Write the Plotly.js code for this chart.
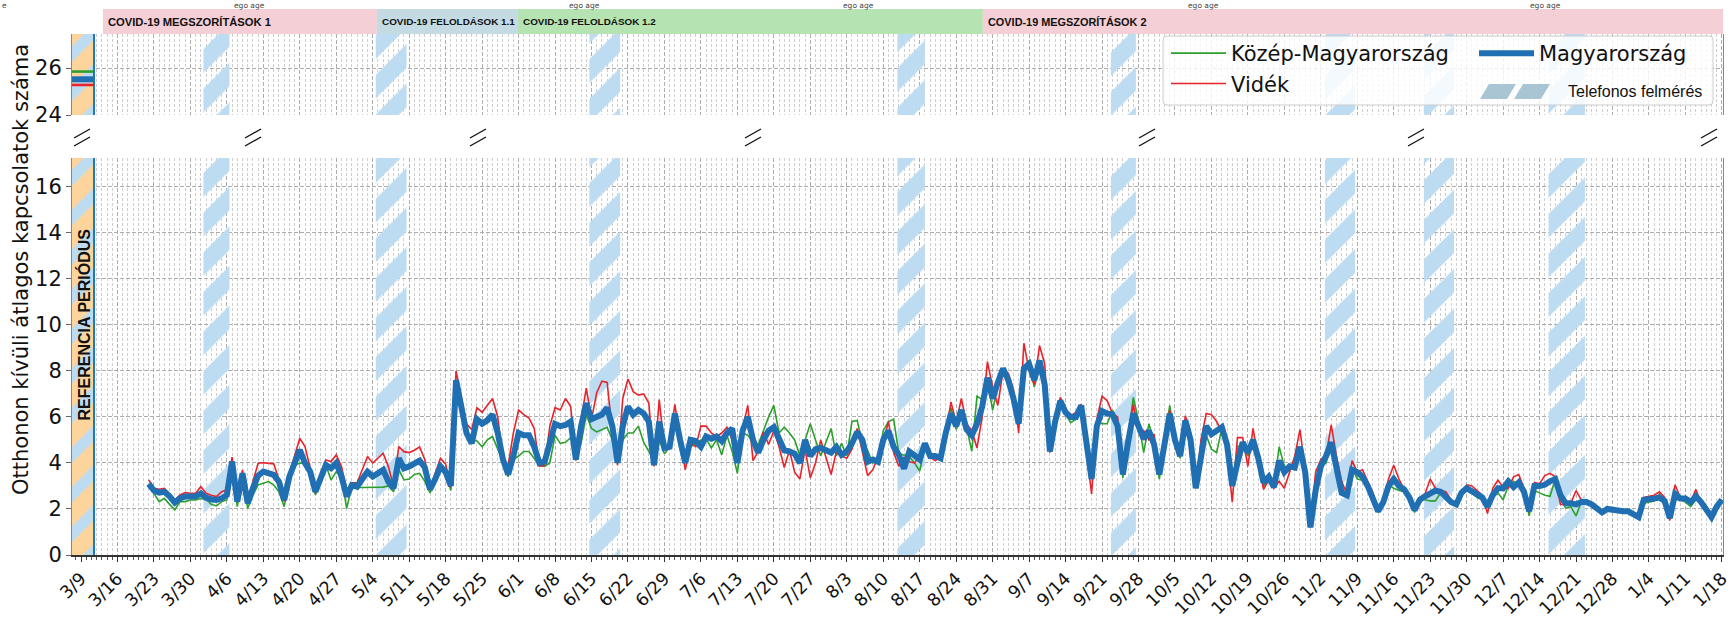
<!DOCTYPE html>
<html><head><meta charset="utf-8">
<script src="https://cdn.plot.ly/plotly-3.0.1.min.js"></script>
<style>html,body{margin:0;padding:0;background:#fff}</style>
</head><body><div id="chart" style="width:1734px;height:617px"></div>
<script>
// ---------------- DATA ----------------
const firstDay = '2020-03-22';
const seriesNames = ['Közép-Magyarország', 'Vidék', 'Magyarország'];
const kozep = [2.97,2.68,2.32,2.46,2.20,1.96,2.32,2.32,2.39,2.39,
 2.46,2.42,2.20,2.13,2.32,2.39,3.99,2.10,3.41,2.03,
 2.60,3.05,3.12,3.19,3.04,2.75,2.10,3.26,3.91,3.99,
 3.99,3.55,2.61,3.30,3.91,3.26,3.62,3.40,2.03,2.97,
 2.93,2.93,2.93,2.93,2.93,2.95,3.00,2.75,3.70,3.26,
 3.30,3.50,3.55,3.20,2.70,3.20,3.70,3.55,2.80,7.30,
 6.15,5.30,5.00,4.95,4.70,5.00,5.15,4.60,4.05,3.40,
 4.15,4.30,4.50,4.50,4.20,3.90,3.85,4.00,5.20,4.85,
 4.90,5.10,4.30,4.85,6.10,5.50,5.35,5.45,5.55,5.00,
 4.00,5.00,5.30,5.30,5.60,4.90,4.50,4.10,5.00,4.40,
 4.70,6.00,4.60,4.20,4.70,4.85,5.00,5.05,4.65,5.00,
 4.35,5.20,4.50,3.55,5.30,5.20,4.90,4.80,5.40,6.00,
 6.50,5.30,5.55,5.30,5.00,4.30,5.00,5.70,5.00,4.30,
 4.90,5.50,4.30,4.85,4.30,5.80,5.85,4.85,4.55,4.00,
 4.15,5.40,5.80,5.90,4.40,4.35,4.28,4.00,3.65,4.70,
 4.30,4.20,4.20,5.50,6.40,5.45,6.00,5.55,4.50,6.90,
 6.75,7.60,6.30,7.30,8.00,7.80,6.90,6.00,8.20,8.45,
 7.30,8.20,7.50,4.50,5.80,6.70,6.10,5.75,5.90,6.50,
 4.60,3.35,5.80,5.70,5.70,6.30,5.70,3.35,5.00,6.85,
 5.85,4.45,5.70,4.90,3.30,4.90,6.50,5.00,4.20,5.90,
 5.10,2.95,4.00,5.20,4.60,4.45,5.50,4.70,3.05,4.70,
 4.80,4.30,4.85,4.00,3.00,3.20,3.00,4.70,3.85,3.80,
 3.70,4.60,3.50,1.25,3.00,3.85,4.00,4.75,3.70,2.80,
 2.60,3.80,3.30,3.25,2.90,2.45,1.85,2.40,3.05,2.90,
 2.80,2.75,2.40,1.85,2.50,2.40,2.35,2.35,2.70,2.60,
 2.30,2.15,2.70,2.80,2.70,2.50,2.40,2.10,2.50,2.70,
 2.40,3.00,3.20,3.00,2.80,1.70,2.80,2.70,2.60,2.55,
 3.30,2.40,2.05,2.10,1.70,2.30,2.30,2.20,2.00,1.85,
 2.00,1.95,1.93,1.90,1.90,1.80,1.65,2.25,2.30,2.35,
 2.65,2.10,1.60,2.40,2.40,2.30,2.10,2.40,2.40,2.00,
 1.65,2.10,2.40];
const videk = [3.26,2.90,2.86,2.90,2.65,2.39,2.61,2.71,2.68,2.68,
 2.97,2.68,2.60,2.54,2.75,2.83,4.25,2.39,3.70,2.32,
 3.20,3.99,4.01,3.98,3.96,3.26,2.32,3.55,4.28,5.07,
 4.71,3.77,2.68,3.50,4.13,4.06,4.35,3.84,2.83,3.14,
 3.14,3.70,4.28,3.99,4.20,4.42,3.84,2.97,4.71,4.49,
 4.45,4.55,4.70,4.15,2.90,3.60,4.20,3.95,2.95,8.00,
 6.90,5.70,5.45,6.40,6.20,6.50,6.80,6.00,4.10,3.90,
 5.30,6.30,6.10,5.95,5.50,3.85,3.90,5.60,6.40,6.30,
 6.80,6.45,4.10,5.90,7.25,5.90,7.05,7.55,7.50,5.30,
 3.90,6.80,7.65,7.10,6.95,7.00,6.60,3.85,6.75,4.60,
 4.90,6.55,5.00,3.70,4.85,4.70,5.60,5.60,5.30,5.15,
 5.30,5.55,5.00,4.30,5.50,6.50,4.10,4.50,5.35,4.80,
 5.40,4.70,3.80,4.55,3.60,3.30,4.60,3.35,4.00,5.00,
 4.30,3.50,4.50,4.30,4.20,4.60,5.50,4.40,3.45,3.70,
 4.25,4.85,5.80,4.45,3.85,4.25,4.05,4.00,4.30,4.70,
 4.25,4.10,4.30,5.30,6.65,5.75,6.80,5.70,5.40,4.65,
 6.00,8.40,7.30,6.50,8.00,7.90,7.20,5.30,9.20,8.00,
 7.40,9.10,8.30,4.45,5.90,6.85,6.30,6.05,6.20,6.55,
 4.50,2.65,5.90,6.90,6.70,6.15,6.00,3.55,4.90,6.55,
 5.35,5.40,5.00,5.25,3.55,5.00,6.30,5.00,4.40,6.05,
 5.30,2.90,5.00,6.15,6.10,5.80,5.35,4.60,2.30,5.10,
 5.10,3.85,5.50,4.10,2.85,3.25,2.90,3.20,2.90,3.60,
 4.30,5.45,3.70,1.20,3.60,4.15,4.30,5.65,4.30,3.20,
 2.65,4.10,3.60,3.70,3.20,2.70,1.90,2.40,3.30,3.90,
 3.30,2.85,2.50,2.05,2.50,2.65,3.30,2.90,2.80,2.75,
 2.40,2.25,2.70,3.05,3.00,2.80,2.60,1.80,2.90,3.25,
 2.95,2.90,3.40,3.50,2.90,1.85,3.15,3.10,3.45,3.55,
 3.40,2.20,2.20,2.25,2.80,2.40,2.30,2.20,2.00,1.85,
 2.00,1.95,1.93,1.90,1.90,1.80,1.70,2.50,2.55,2.60,
 2.75,2.50,1.50,3.05,2.50,2.55,2.30,2.85,2.25,2.00,
 1.70,2.10,2.40];
const magyar = [3.09,2.80,2.71,2.75,2.55,2.28,2.46,2.54,2.54,2.54,
 2.68,2.49,2.42,2.39,2.46,2.61,4.06,2.32,3.55,2.25,
 2.90,3.45,3.62,3.55,3.48,3.19,2.39,3.41,4.06,4.57,
 3.99,3.62,2.75,3.30,3.91,3.77,3.99,3.41,2.54,3.04,
 2.97,3.30,3.62,3.41,3.55,3.70,3.19,2.90,4.20,3.77,
 3.85,4.00,4.10,3.80,2.85,3.30,3.85,3.60,3.00,7.60,
 6.45,5.30,4.85,5.90,5.70,5.85,6.10,5.30,4.15,3.50,
 4.30,5.30,5.20,5.20,4.70,4.00,4.05,4.85,5.70,5.60,
 5.65,5.80,4.15,5.60,6.60,5.90,6.00,6.10,6.40,5.60,
 4.00,5.60,6.45,6.10,6.30,6.15,5.80,3.90,5.80,4.65,
 4.70,6.15,5.00,4.00,5.00,4.95,4.70,5.15,5.05,5.15,
 4.95,5.30,5.50,4.00,5.40,6.00,5.00,4.45,5.00,5.40,
 5.55,5.00,4.55,4.50,4.40,4.00,5.00,4.30,4.60,4.65,
 4.55,4.45,4.70,4.35,4.50,4.85,5.35,5.00,4.05,4.15,
 4.05,5.00,5.40,4.70,4.35,3.75,4.50,4.30,4.15,4.85,
 4.30,4.30,4.20,5.30,6.15,5.60,6.30,5.45,5.20,5.70,
 6.45,7.70,6.80,7.50,8.10,7.60,6.80,5.70,8.10,8.30,
 7.60,8.45,7.40,4.50,5.80,6.70,6.20,6.00,6.00,6.50,
 4.70,3.30,5.60,6.25,6.15,6.10,5.60,3.50,4.90,6.15,
 5.60,5.05,5.40,4.80,3.50,4.90,6.15,5.00,4.30,5.85,
 5.00,2.90,4.40,5.60,5.25,5.40,5.55,4.80,3.00,4.00,
 4.90,4.45,5.00,4.20,3.15,3.40,2.95,4.10,3.60,3.85,
 3.80,4.70,3.60,1.20,2.80,3.85,4.30,4.90,3.70,2.70,
 2.60,3.70,3.60,3.40,3.00,2.40,1.90,2.30,3.00,3.30,
 3.00,2.85,2.50,1.95,2.40,2.55,2.65,2.80,2.75,2.55,
 2.30,2.20,2.70,2.90,2.75,2.60,2.50,2.10,2.60,2.90,
 2.90,3.20,2.95,3.15,2.75,1.90,3.00,3.00,3.05,3.20,
 3.30,2.60,2.25,2.25,2.20,2.30,2.30,2.20,2.00,1.85,
 2.00,1.95,1.93,1.90,1.90,1.80,1.65,2.40,2.40,2.45,
 2.50,2.35,1.60,2.65,2.45,2.45,2.30,2.55,2.30,2.00,
 1.65,2.10,2.40];
// reference-period levels (Közép, Vidék, Magyarország)
const refLevels = [25.85, 25.28, 25.52];
const refPeriod = ['2020-03-07 06:30', '2020-03-11 12:00'];
const refLabel = 'REFERENCIA PERIÓDUS';
// phone survey periods
const surveyStarts = ['2020-04-01 12:00','2020-05-04 14:00','2020-06-14 14:00','2020-08-12 17:00',
  '2020-09-22 17:00','2020-11-02 19:00','2020-11-21 19:00','2020-12-15 17:00'];
const surveyEnds = ['2020-04-06 12:00','2020-05-10 12:00','2020-06-20 12:00','2020-08-18 00:00',
  '2020-09-27 12:00','2020-11-08 14:00','2020-11-27 14:00','2020-12-22 17:00'];
const surveyName = 'Telefonos felmérés';
// policy phases
const phaseNames = ['COVID-19 MEGSZORÍTÁSOK 1','COVID-19 FELOLDÁSOK 1.1','COVID-19 FELOLDÁSOK 1.2','COVID-19 MEGSZORÍTÁSOK 2'];
const phaseStarts = ['2020-03-13 05:00','2020-05-04 19:00','2020-05-31 21:00','2020-08-29 03:00'];
const phaseEnds = ['2020-05-04 19:00','2020-05-31 21:00','2020-08-29 03:00','2021-01-18 05:00'];
const phaseColors = ['#f4cfd5','#c5dbe3','#b5e3b1','#f4cfd5'];
const yTitle = 'Otthonon kívüli átlagos kapcsolatok száma';
const cutLabels = ['e','ego age','ego age','ego age','ego age','ego age'];
const xStart = '2020-03-07 06:30', xEnd = '2021-01-18 05:00';
const yLow = [0, 17.25], yHigh = [24, 27.45];

// ---------------- LAYOUT HELPERS ----------------
const W = 1734, H = 617;
const M = {l: 72, r: 11, t: 0, b: 62};
const PW = W - M.l - M.r, PH = H - M.t - M.b;
const px = x => (x - M.l) / PW;
const py = y => (PH - (y - M.t)) / PH;

function dayStr(start, i) {
  const d = new Date(start + 'T00:00:00Z');
  d.setUTCDate(d.getUTCDate() + i);
  return d.toISOString().slice(0, 10);
}
const dates = magyar.map((_, i) => dayStr(firstDay, i));

function bands(starts, ends, lo, hi) {
  const x = [], y = [];
  starts.forEach((s, i) => {
    x.push(s, ends[i], ends[i], s, s, null);
    y.push(lo, lo, hi, hi, lo, null);
  });
  return {x, y};
}

const SOL = 0.6;
const stripe = {shape: '/', fgcolor: '#bedcf1', bgcolor: 'rgba(255,255,255,0)', size: 28, solidity: SOL, fgopacity: 1};
const refStripe = {shape: '/', fgcolor: '#fcd49c', bgcolor: '#bedcf1', size: 28, solidity: SOL, fgopacity: 1};

const sb = bands(surveyStarts, surveyEnds, yLow[0], yLow[1]);
const st = bands(surveyStarts, surveyEnds, yHigh[0], yHigh[1]);
const rb = bands([refPeriod[0]], [refPeriod[1]], yLow[0], yLow[1]);
const rt = bands([refPeriod[0]], [refPeriod[1]], yHigh[0], yHigh[1]);

const colors = ['#2ca02c', '#e8232b', '#1f6fb2'];
const widths = [1.6, 1.6, 6];

const traces = [
  {x: sb.x, y: sb.y, type: 'scatter', mode: 'none', fill: 'toself', fillcolor: 'rgba(0,0,0,0)',
   fillpattern: stripe, showlegend: false, hoverinfo: 'skip', name: surveyName},
  {x: st.x, y: st.y, xaxis: 'x2', yaxis: 'y2', type: 'scatter', mode: 'none', fill: 'toself', fillcolor: 'rgba(0,0,0,0)',
   fillpattern: stripe, showlegend: false, hoverinfo: 'skip'},
  {x: rb.x, y: rb.y, type: 'scatter', mode: 'none', fill: 'toself', fillcolor: 'rgba(0,0,0,0)',
   fillpattern: refStripe, showlegend: false, hoverinfo: 'skip'},
  {x: rt.x, y: rt.y, xaxis: 'x2', yaxis: 'y2', type: 'scatter', mode: 'none', fill: 'toself', fillcolor: 'rgba(0,0,0,0)',
   fillpattern: refStripe, showlegend: false, hoverinfo: 'skip'}
];
[kozep, videk, magyar].forEach((vals, k) => {
  traces.push({x: dates, y: vals, type: 'scatter', mode: 'lines', name: seriesNames[k],
    line: {color: colors[k], width: widths[k]}, legend: k === 2 ? 'legend2' : 'legend',
    legendgroup: 'g' + k});
});
refLevels.forEach((lv, k) => {
  traces.push({x: refPeriod, y: [lv, lv], xaxis: 'x2', yaxis: 'y2', type: 'scatter', mode: 'lines',
    line: {color: colors[k], width: k === 2 ? 6 : 2.6}, showlegend: false, hoverinfo: 'skip'});
});

const gridMajor = '#adadad', gridMinor = '#c9c9c9';
const xCommon = {
  type: 'date', range: [xStart, xEnd], tick0: '2020-03-09', dtick: 7 * 86400000,
  showgrid: true, gridcolor: gridMajor, griddash: '4px,2px', gridwidth: 1, zeroline: false,
  minor: {dtick: 86400000, showgrid: true, gridcolor: gridMinor, griddash: '3px,2px', gridwidth: 0.9}
};

const shapes = [];
phaseNames.forEach((n, i) => {
  shapes.push({type: 'rect', xref: 'x', yref: 'paper', x0: phaseStarts[i], x1: phaseEnds[i],
    y0: py(34), y1: py(9), fillcolor: phaseColors[i], line: {width: 0}, layer: 'below'});
});
shapes.push({type: 'line', xref: 'x', yref: 'y domain', x0: refPeriod[1], x1: refPeriod[1], y0: 0, y1: 1,
  line: {color: '#1f77b4', width: 2}});
shapes.push({type: 'line', xref: 'x2', yref: 'y2 domain', x0: refPeriod[1], x1: refPeriod[1], y0: 0, y1: 1,
  line: {color: '#1f77b4', width: 2}});
[82, 253, 478, 753, 1147, 1416, 1709].forEach(cx => {
  const cy = 138;
  shapes.push({type: 'line', xref: 'paper', yref: 'paper', x0: px(cx - 8), y0: py(cy), x1: px(cx + 8), y1: py(cy - 9), line: {color: '#111', width: 1.4}});
  shapes.push({type: 'line', xref: 'paper', yref: 'paper', x0: px(cx - 8), y0: py(cy + 8), x1: px(cx + 8), y1: py(cy - 1), line: {color: '#111', width: 1.4}});
});
// legend frame
(function () {
  const x0 = px(1163), x1 = px(1713), y0 = py(105), y1 = py(36);
  const rx = 4 / PW, ry = 4 / PH;
  shapes.push({type: 'path', xref: 'paper', yref: 'paper', layer: 'above',
    path: `M${x0 + rx},${y0} L${x1 - rx},${y0} Q${x1},${y0} ${x1},${y0 + ry} L${x1},${y1 - ry} Q${x1},${y1} ${x1 - rx},${y1} L${x0 + rx},${y1} Q${x0},${y1} ${x0},${y1 - ry} L${x0},${y0 + ry} Q${x0},${y0} ${x0 + rx},${y0} Z`,
    fillcolor: 'rgba(255,255,255,0.82)', line: {color: '#cccccc', width: 1}});
})();
// legend swatch for the survey stripes: two slanted patches
[[1480, 1507], [1514, 1541]].forEach(([a, b]) => {
  const yb = 99, yt = 84, s = 9;
  shapes.push({type: 'path', xref: 'paper', yref: 'paper', layer: 'above',
    path: `M${px(a)},${py(yb)} L${px(b)},${py(yb)} L${px(b + s)},${py(yt)} L${px(a + s)},${py(yt)} Z`,
    fillcolor: '#a9c5d3', line: {width: 0}});
});

const phaseFont = [11.2, 9.9, 9.9, 10.9];
const annotations = [];
phaseNames.forEach((n, i) => {
  annotations.push({xref: 'x', yref: 'paper', x: phaseStarts[i], y: py(21.5), xanchor: 'left', yanchor: 'middle',
    xshift: 3, showarrow: false, text: '<b>' + n + '</b>', font: {family: 'Liberation Sans, Arial', size: phaseFont[i], color: '#111'}});
});
annotations.push({xref: 'x', yref: 'y', x: '2020-03-09 12:00', y: 10, textangle: -90, showarrow: false,
  xanchor: 'center', yanchor: 'middle',
  text: '<b>' + refLabel + '</b>', font: {family: 'Liberation Sans, Arial', size: 16, color: '#111'}});
annotations.push({xref: 'paper', yref: 'paper', x: px(21), y: py(270), textangle: -90, showarrow: false,
  xanchor: 'center', yanchor: 'middle',
  text: yTitle, font: {family: 'DejaVu Sans', size: 21, color: '#111'}});
annotations.push({xref: 'paper', yref: 'paper', x: px(1566), y: py(92), xanchor: 'left', yanchor: 'middle',
  showarrow: false, text: surveyName, font: {family: 'Liberation Sans, Arial', size: 16, color: '#111'}});
[4, 249, 584, 858, 1203, 1545].forEach((cx, i) => {
  annotations.push({xref: 'paper', yref: 'paper', x: px(cx), y: py(0), xanchor: 'center', yanchor: 'top',
    showarrow: false, text: cutLabels[i], font: {family: 'DejaVu Sans', size: 7.5, color: '#444'}, borderpad: 0});
});

const legendBase = {orientation: 'v', xanchor: 'left', yanchor: 'top', bgcolor: 'rgba(0,0,0,0)', borderwidth: 0,
  font: {family: 'DejaVu Sans', size: 21, color: '#111'}, itemwidth: 55, tracegroupgap: 5, traceorder: 'normal'};

const layout = {
  width: W, height: H, margin: M, paper_bgcolor: '#fff', plot_bgcolor: '#fff',
  font: {family: 'DejaVu Sans', color: '#111'},
  showlegend: true,
  legend: Object.assign({}, legendBase, {x: px(1166), y: py(33)}),
  legend2: Object.assign({}, legendBase, {x: px(1474), y: py(33)}),
  xaxis: Object.assign({}, xCommon, {anchor: 'y', tickformat: '%-m/%-d', tickangle: -45,
    tickfont: {family: 'DejaVu Sans', size: 17.5, color: '#111'}, ticks: 'outside', ticklen: 5, tickcolor: '#333',
    showline: true, linecolor: '#333', linewidth: 1.5,
    minor: Object.assign({}, xCommon.minor, {ticks: 'outside', ticklen: 3, tickcolor: '#555'})}),
  xaxis2: Object.assign({}, xCommon, {anchor: 'y2', matches: 'x', showticklabels: false, ticks: '', showline: false}),
  yaxis: {domain: [0, py(158)], range: yLow, dtick: 2, tick0: 0, showgrid: true, gridcolor: gridMajor, griddash: '4px,2px',
    zeroline: false, ticks: 'outside', ticklen: 5, tickcolor: '#666', showline: true, linecolor: '#888', mirror: true,
    tickfont: {family: 'DejaVu Sans', size: 21, color: '#111'}},
  yaxis2: {domain: [py(115), py(34)], range: yHigh, dtick: 2, tick0: 24, showgrid: true, gridcolor: gridMajor, griddash: '4px,2px',
    zeroline: false, ticks: 'outside', ticklen: 5, tickcolor: '#666', showline: true, linecolor: '#888', mirror: true,
    tickfont: {family: 'DejaVu Sans', size: 21, color: '#111'}},
  shapes, annotations
};

Plotly.newPlot('chart', traces, layout, {displayModeBar: false, staticPlot: true});
</script></body></html>
